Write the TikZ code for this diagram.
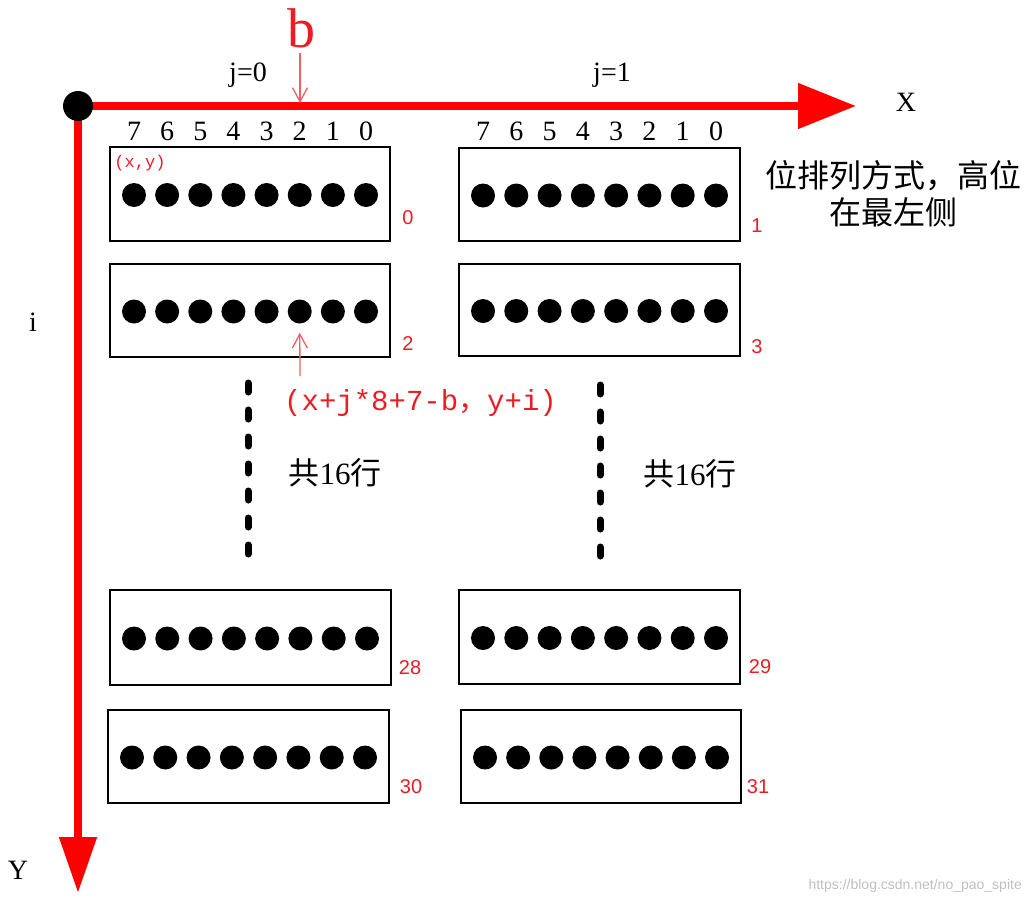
\documentclass[tikz,border=0pt]{standalone}
\usepackage{fontspec}
\setmainfont{Liberation Serif}
\newfontfamily\cjkfont{Noto Sans CJK SC}
\newfontfamily\sansfont{Liberation Sans}
\newfontfamily\monofont{Liberation Mono}
\usetikzlibrary{arrows.meta}
\definecolor{axisred}{RGB}{255,0,0}
\definecolor{labred}{RGB}{236,28,36}
\definecolor{thinred}{RGB}{245,95,95}
\newcommand\fsz[1]{\fontsize{#1}{#1}\selectfont}
\newcommand\regrow[6]{%
  \node[regbox, minimum width={#4-#2}, minimum height={#5-#3}] (#1) at ({(#2+#4)/2},{(#3+#5)/2}) {};
  \foreach \k in {0,...,7} \node[bitdot] (#1-\k) at ({#2+24+\k*(#4-#2-48)/7},{(#3+#5)/2+1}) {};
  \node[boxlab] (#1-lab) at #6 {#1}; 
}
\begin{document}
\begin{tikzpicture}[x=1pt,y=-1pt,
  regbox/.style={draw=black, line width=2.5pt, inner sep=0pt, outer sep=0pt},
  bitdot/.style={circle, fill=black, minimum size=24pt, inner sep=0pt},
  boxlab/.style={text=labred, font=\sansfont\fsz{20}, inner sep=0pt},
  bitnum/.style={font=\fsz{28}, inner sep=0pt},
  axis/.style={draw=axisred, line width=8pt},
  thinarrow/.style={draw=thinred, line width=1.3pt, -{Straight Barb[length=14pt,width=15pt,line width=1.3pt]}},
  dotline/.style={draw=black, line width=7pt, line cap=round, dash pattern=on 9pt off 18pt},
  plain/.style={inner sep=0pt}
]
\useasboundingbox (0,0) rectangle (1032,905);

% axes
\coordinate (O) at (78,106);
\coordinate (Xend) at (856,106);
\coordinate (Yend) at (78,893);
\draw[axis, -{Triangle[length=58pt,width=44pt]}] (O) -- (Xend);
\draw[axis, -{Triangle[length=56pt,width=36pt]}] (O) -- (Yend);
\node[circle, fill=black, minimum width=30pt, minimum height=28pt, inner sep=0pt] (Odot) at (O) {};

\node[plain, font=\fsz{28}] (Xlab) at (906,102) {X};
\node[plain, font=\fsz{28}] (Ylab) at (18,870) {Y};
\node[plain, font=\fsz{28}] (ilab) at (33,322) {i};

% b marker
\node[plain, text=labred, font=\fsz{56}, anchor=base] (b) at (301,47) {b};
\coordinate (bT) at (300,103);
\draw[thinarrow, shorten <=5pt] (b.south -| bT) -- (bT);

\node[plain, font=\fsz{28}] (j0) at (248,75) {j=0};
\node[plain, font=\fsz{28}] (j1) at (612,75) {j=1};

% boxes
\regrow{0}{110}{147}{390}{241}{(408,218)}
\regrow{1}{459}{148}{740}{241}{(757,226)}
\regrow{2}{110}{264}{390}{357}{(408,344)}
\regrow{3}{459}{264}{740}{356}{(757,347)}
\regrow{28}{110}{590}{391}{685}{(410,668)}
\regrow{29}{459}{590}{740}{684}{(760,667)}
\regrow{30}{108}{710}{389}{803}{(411,787)}
\regrow{31}{461}{710}{741}{803}{(758,787)}

% bit numbers
\coordinate (numrow) at (0,131);
\foreach \k/\t in {0/7,1/6,2/5,3/4,4/3,5/2,6/1,7/0}{
  \node[bitnum] (n0-\k) at (0-\k |- numrow) {\t};
  \node[bitnum] (n1-\k) at (1-\k |- numrow) {\t};
}

\node[plain, text=labred, font=\monofont\fsz{17}] (xy) at (140,163) {(x,y)};

% formula
\node[plain, text=labred, font=\monofont\fsz{29}, anchor=west] (formula) at (284,403) {(x+j*8+7-b{\cjkfont ，}y+i)};
\coordinate (fa) at (300,376);
\draw[thinarrow, shorten >=9pt] (fa) -- (2-5.south);

% vertical dotted lines
\coordinate (d1a) at (248,383); \coordinate (d1b) at (248,560);
\coordinate (d2a) at (600,385); \coordinate (d2b) at (600,564);
\draw[dotline] (d1a) -- (d1b);
\draw[dotline] (d2a) -- (d2b);

\node[plain, font=\fsz{31}] (c16a) at (335,473) {{\cjkfont 共}16{\cjkfont 行}};
\node[plain, font=\fsz{31}] (c16b) at (690,474) {{\cjkfont 共}16{\cjkfont 行}};

\node[plain, font=\cjkfont\fsz{32}] (note1) at (893,176) {位排列方式，高位};
\node[plain, font=\cjkfont\fsz{32}] (note2) at (893,212) {在最左侧};

\node[plain, text=black!25, font=\sansfont\fsz{14}, anchor=east] (wm) at (1022,886) {https://blog.csdn.net/no\_pao\_spite};
\end{tikzpicture}
\end{document}
